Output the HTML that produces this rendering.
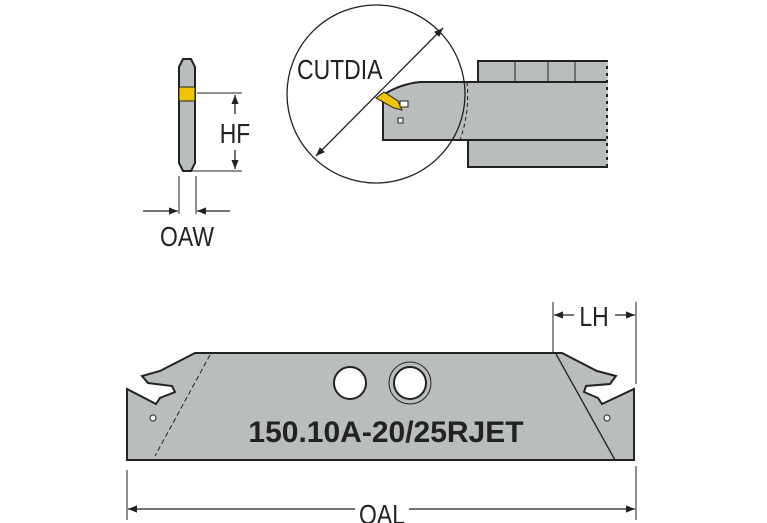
<!DOCTYPE html>
<html><head><style>body{margin:0;background:#fff}svg{display:block}text{font-family:"Liberation Sans",sans-serif;fill:#222}</style></head>
<body>
<svg width="767" height="523" viewBox="0 0 767 523" xmlns="http://www.w3.org/2000/svg">
<defs>
<marker id="a" viewBox="0 0 10 10" refX="10" refY="5" markerWidth="7" markerHeight="7" orient="auto-start-reverse"><path d="M0,1 L10,5 L0,9z" fill="#222"/></marker>
</defs>
<path d="M179,67 L183,59 L191,59 L195,67 L195,163 L191,171 L183,171 L179,163z" fill="#b9bdbb" stroke="#222" stroke-width="2"/>
<rect x="179" y="87" width="16" height="14" fill="#f0c400" stroke="#222" stroke-width="1"/>
<line x1="197" y1="93" x2="242" y2="93" stroke="#222" stroke-width="1"/>
<line x1="182" y1="171" x2="242" y2="171" stroke="#222" stroke-width="1"/>
<line x1="235" y1="95" x2="235" y2="169" stroke="#222" stroke-width="1.3" marker-start="url(#a)" marker-end="url(#a)"/>
<rect x="217" y="114" width="36" height="36" fill="#fff"/>
<text x="235" y="143" font-size="28" text-anchor="middle" transform="translate(235 0) scale(0.82 1) translate(-235 0)">HF</text>
<line x1="179" y1="176" x2="179" y2="214" stroke="#222" stroke-width="1"/>
<line x1="196" y1="176" x2="196" y2="214" stroke="#222" stroke-width="1"/>
<line x1="143" y1="211" x2="178" y2="211" stroke="#222" stroke-width="1.3" marker-end="url(#a)"/>
<line x1="230" y1="211" x2="197" y2="211" stroke="#222" stroke-width="1.3" marker-end="url(#a)"/>
<text x="187" y="246" font-size="28" text-anchor="middle" transform="translate(187 0) scale(0.82 1) translate(-187 0)">OAW</text>
<rect x="478" y="61" width="129" height="22" fill="#b9bdbb" stroke="#222" stroke-width="2"/>
<line x1="515" y1="61" x2="515" y2="82" stroke="#222"/><line x1="548" y1="61" x2="548" y2="82" stroke="#222"/><line x1="575" y1="61" x2="575" y2="82" stroke="#222"/>
<rect x="468" y="138" width="139" height="29" fill="#b9bdbb" stroke="#222" stroke-width="2"/>
<path d="M383,95 Q400,84 420,82 L607,82 L607,140 L383,140z" fill="#b9bdbb" stroke="#222" stroke-width="2"/>
<path d="M467,82 Q470,112 460,140" fill="none" stroke="#222" stroke-dasharray="4,3"/>
<line x1="607" y1="62" x2="607" y2="166" stroke="#fff" stroke-dasharray="4,3" stroke-width="1.5"/>
<path d="M376,98 L384,92 L398,101 L402,110 L394,108z" fill="#f0c400" stroke="#222" stroke-width="1"/>
<rect x="400" y="101" width="8" height="6" fill="#fff" stroke="#222"/>
<rect x="398" y="118" width="5" height="5" fill="#fff" stroke="#222"/>
<circle cx="376" cy="94" r="89" fill="none" stroke="#222" stroke-width="1.3"/>
<line x1="443" y1="28" x2="316" y2="156" stroke="#222" stroke-width="1.3" marker-start="url(#a)" marker-end="url(#a)"/>
<text x="297" y="79" font-size="28" transform="translate(297 0) scale(0.82 1) translate(-297 0)">CUTDIA</text>
<path d="M127,460 L127,389 L156,404 L160,398 L175,392 L172,386 L148,383 L142,376 L160,371 L195,353 L562,353 L597,371 L616,376 L610,384 L586,386 L584,392 L598,398 L602,404 L634,389 L634,460z" fill="#b9bdbb" stroke="#222" stroke-width="2"/>
<line x1="210" y1="355" x2="155" y2="456" stroke="#222" stroke-dasharray="5,3"/>
<line x1="556" y1="354" x2="615" y2="460" stroke="#222" stroke-width="1.3"/>
<circle cx="153" cy="418" r="3" fill="#fff" stroke="#222"/>
<circle cx="607" cy="418" r="3" fill="#fff" stroke="#222"/>
<circle cx="350" cy="383" r="16" fill="#fff" stroke="#222" stroke-width="2"/>
<circle cx="410" cy="383" r="21" fill="none" stroke="#222" stroke-width="1"/>
<circle cx="410" cy="383" r="16" fill="#fff" stroke="#222" stroke-width="2"/>
<text x="386" y="442" font-size="30" font-weight="bold" text-anchor="middle">150.10A-20/25RJET</text>
<line x1="553" y1="302" x2="553" y2="352" stroke="#222"/>
<line x1="636" y1="302" x2="636" y2="384" stroke="#222"/>
<line x1="574" y1="315" x2="554" y2="315" stroke="#222" stroke-width="1.3" marker-end="url(#a)"/>
<line x1="615" y1="315" x2="635" y2="315" stroke="#222" stroke-width="1.3" marker-end="url(#a)"/>
<text x="594" y="326" font-size="28" text-anchor="middle" transform="translate(594 0) scale(0.82 1) translate(-594 0)">LH</text>
<line x1="127" y1="470" x2="127" y2="520" stroke="#222"/>
<line x1="636" y1="466" x2="636" y2="520" stroke="#222"/>
<line x1="128" y1="509" x2="635" y2="509" stroke="#222" stroke-width="1.3" marker-start="url(#a)" marker-end="url(#a)"/>
<rect x="355" y="495" width="54" height="28" fill="#fff"/>
<text x="382" y="524" font-size="28" text-anchor="middle" transform="translate(382 0) scale(0.82 1) translate(-382 0)">OAL</text>
</svg>
</body></html>
